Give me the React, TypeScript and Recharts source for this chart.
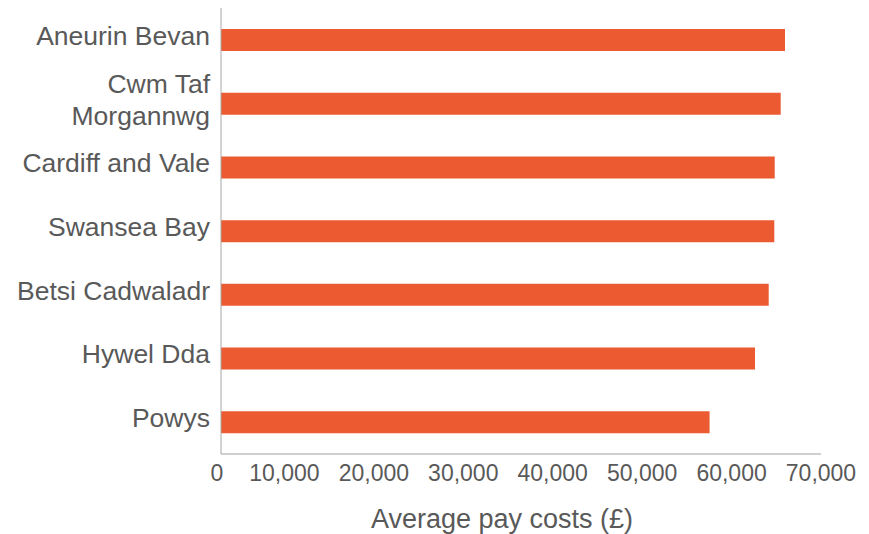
import React from 'react';
import { BarChart, Bar, XAxis, YAxis } from 'recharts';

const categories = [
  'Aneurin Bevan',
  'Cwm Taf\nMorgannwg',
  'Cardiff and Vale',
  'Swansea Bay',
  'Betsi Cadwaladr',
  'Hywel Dda',
  'Powys',
];
const payCosts = [65800, 65300, 64600, 64550, 63900, 62300, 57000];
const xTicks = [0, 10000, 20000, 30000, 40000, 50000, 60000, 70000];
const axisTitle = 'Average pay costs (£)';

const data = categories.map((name, i) => ({ name, value: payCosts[i] }));

const FONT = '"Liberation Sans", Arial, sans-serif';
const TEXT = '#595959';

const YTick = (props: any) => {
  const { x, y, payload } = props;
  const lines = String(payload.value).split('\n');
  const lh = 32;
  const first = y + 5 - ((lines.length - 1) * lh) / 2;
  return (
    <text textAnchor="end" fill={TEXT} fontSize={26.5} fontFamily={FONT}>
      {lines.map((l, i) => (
        <tspan key={i} x={x - 11} y={first + i * lh}>
          {l}
        </tspan>
      ))}
    </text>
  );
};

const XTick = (props: any) => {
  const { x, y, payload } = props;
  const v = payload.value as number;
  const shift = v === 0 ? -4 : -26 * (1 - v / 70000);
  return (
    <text x={x + shift} y={y + 26.5} textAnchor="middle" fill={TEXT} fontSize={23} fontFamily={FONT}>
      {v.toLocaleString('en-US')}
    </text>
  );
};

const TitleLabel = (props: any) => {
  const vb = props.viewBox || {};
  const cx = vb.x + vb.width / 2 - 19;
  const by = vb.y + vb.height - 6;
  return (
    <text x={cx} y={by} textAnchor="middle" fill={TEXT} fontSize={27} fontFamily={FONT}>
      {axisTitle}
    </text>
  );
};

export default function App() {
  return (
    <div style={{ position: 'absolute', left: 0, top: 0, width: 869, height: 534, background: '#fff' }}>
      <BarChart
        width={869}
        height={534}
        data={data}
        layout="vertical"
        margin={{ top: 8, right: 48, bottom: 0, left: 0 }}
      >
        <XAxis
          type="number"
          domain={[0, 70000]}
          ticks={xTicks}
          interval={0}
          height={80}
          tickLine={false}
          tickSize={0}
          tickMargin={0}
          axisLine={{ stroke: '#BFBFBF', strokeWidth: 1.5 }}
          tick={<XTick />}
          label={<TitleLabel />}
        />
        <YAxis
          type="category"
          dataKey="name"
          width={221}
          interval={0}
          tickLine={false}
          tickSize={0}
          tickMargin={0}
          axisLine={{ stroke: '#A6A6A6', strokeWidth: 1 }}
          tick={<YTick />}
        />
        <Bar dataKey="value" fill="#EB5A30" barSize={22} isAnimationActive={false} />
      </BarChart>
    </div>
  );
}
